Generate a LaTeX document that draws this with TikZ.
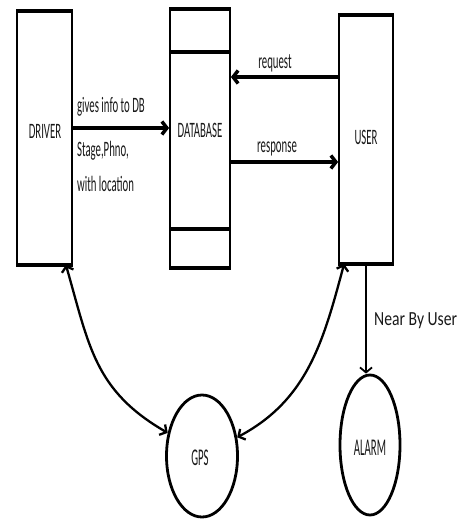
\documentclass[tikz,border=0pt]{standalone}
\usepackage{fontspec}
\setmainfont{Carlito}
\usetikzlibrary{arrows.meta,shapes.geometric}

\begin{document}
\begin{tikzpicture}[x=1pt,y=-1pt,
  box/.style={draw,line width=1.8pt,inner sep=0pt},
  bar/.style={line width=4.5pt},
  flow/.style={line width=3.5pt,-{Straight Barb[length=5pt,width=13pt]}},
  link/.style={line width=2.3pt,{Straight Barb[length=5pt,width=12pt]}-{Straight Barb[length=5pt,width=12pt]}},
  txt/.style={font=\fontsize{22}{26}\selectfont,xscale=0.49,inner sep=0pt,text=black!90},
  bubble/.style={draw,ellipse,line width=2.8pt,inner sep=0pt}]
  \useasboundingbox (0,0) rectangle (461,519);

  % DRIVER
  \node[box,minimum width=55pt,minimum height=252pt] (driver) at (44.5,138) {};
  \draw[bar] (driver.north west) -- (driver.north east);
  \draw[bar] (driver.south west) -- (driver.south east);
  \node[txt] (drivertxt) at (45,131) {DRIVER};

  % DATABASE
  \node[box,minimum width=60pt,minimum height=257pt] (database) at (200,138.5) {};
  \draw[bar] (database.north west) -- (database.north east);
  \draw[bar] ([yshift=-43pt]database.north west) -- ([yshift=-43pt]database.north east);
  \draw[bar] ([yshift=39pt]database.south west) -- ([yshift=39pt]database.south east);
  \draw[bar] (database.south west) -- (database.south east);
  \node[txt] (dbtxt) at (200,130) {DATABASE};

  % USER
  \node[box,minimum width=54pt,minimum height=247pt] (user) at (366,139.5) {};
  \draw[bar] (user.north west) -- (user.north east);
  \draw[bar] (user.south west) -- (user.south east);
  \node[txt] (usertxt) at (366,137) {USER};

  % GPS and ALARM
  \node[bubble,minimum width=71pt,minimum height=122pt] (gps) at (202,456) {};
  \node[txt,font=\fontsize{24}{28}\selectfont,xscale=0.92] (gpstxt) at (200,458) {GPS};
  \node[bubble,minimum width=60pt,minimum height=140pt] (alarm) at (370,445) {};
  \node[txt,font=\fontsize{24}{28}\selectfont,xscale=0.92] (alarmtxt) at (370,448) {ALARM};

  % data flows
  \draw[flow] ([yshift=10pt]driver.east) -- ([yshift=10pt]driver.east -| database.west);
  \node[txt,anchor=west] (give) at (77,106.5) {gives info to DB};
  \node[txt,anchor=west] (stage) at (77,151) {Stage,Phno,};
  \node[txt,anchor=west] (loc) at (77,184) {with location};

  \draw[flow] ([yshift=62.5pt]user.west) -- ([yshift=62.5pt]user.west -| database.east);
  \node[txt] (req) at (275,63) {request};

  \draw[flow] ([yshift=-23.5pt]database.east) -- ([yshift=-23.5pt]database.east -| user.west);
  \node[txt] (resp) at (277,149) {response};

  \draw[line width=1.8pt,-{Straight Barb[length=5pt,width=12pt]}] (user.south) -- (user.south |- alarm.north);
  \node[txt,anchor=west,xscale=1.6,font=\fontsize{20}{24}\selectfont] (near) at (374,321) {Near By User};

  % GPS links
  \draw[link] ([xshift=-7pt]driver.south east) to[out=-74,in=150,looseness=1.1] (gps.146);
  \draw[link] ([xshift=6pt]user.south west) to[out=-105,in=28] (gps.28);
\end{tikzpicture}
\end{document}
